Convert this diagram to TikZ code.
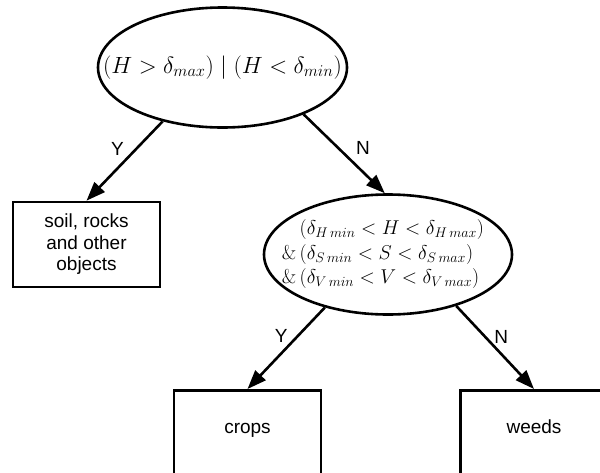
\RequirePackage{fix-cm}
\documentclass[tikz,border=0pt]{standalone}
\usepackage{fontspec}
\setsansfont{Liberation Sans}
\usetikzlibrary{arrows.meta,positioning,shapes.geometric}

\begin{document}
\begin{tikzpicture}[x=1pt,y=-1pt,
    test/.style={ellipse, draw, line width=2.6pt, inner ysep=0pt},
    leaf/.style={rectangle, draw, line width=2.6pt, minimum width=147pt,
      font=\sffamily\fontsize{19}{21.5}\selectfont, align=center},
    branch/.style={-{Triangle[length=19pt,width=14pt]}, line width=2.6pt},
    answer/.style={font=\sffamily\fontsize{19}{22}\selectfont, inner sep=0pt}]
  \useasboundingbox (0,0) rectangle (600,472);
  \clip (0,0) rectangle (600,472);
  % tests
  \node[test, inner xsep=-40pt, minimum width=249pt, minimum height=120pt,
    font=\fontsize{23.5}{28}\selectfont] (hue) at (222.5,67.5)
    {$(H > \delta_{max}) \mid (H < \delta_{min})$};
  \node[test, inner xsep=-30pt, minimum width=248pt, minimum height=120pt,
    font=\fontsize{20}{24.5}\selectfont] (hsv) at (388,254.5)
    {\hspace*{-10pt}$\begin{array}{@{}r@{\,}l@{}}
       & (\delta_{H\,min} < H < \delta_{H\,max})\\
     \& & (\delta_{S\,min} < S < \delta_{S\,max})\\
     \& & (\delta_{V\,min} < V < \delta_{V\,max})
     \end{array}$};
  % leaves
  \node[leaf, minimum height=85pt] (soil) at (86.5,244.5)
    {soil, rocks\\and other\\objects};
  \node[leaf, minimum height=84pt, anchor=north, text height=13.5pt,
    text depth=12pt] (crops) at (247.5,389) {crops};
  \node[leaf, minimum height=84pt, anchor=north, text height=13.5pt,
    text depth=12pt] (weeds) at (534,389) {weeds};
  % branches
  \draw[branch] (hue.-138) -- node[answer, pos=.35, left=11pt] {Y} (soil.north);
  \draw[branch] (hue.-30) -- node[answer, pos=.42, right=17pt] {N} (hsv.93);
  \draw[branch] (hsv.-140) -- node[answer, pos=.35, left=9pt] {Y} (crops.north);
  \draw[branch] (hsv.-37) -- node[answer, pos=.37, right=8pt] {N} (weeds.north);
\end{tikzpicture}
\end{document}
